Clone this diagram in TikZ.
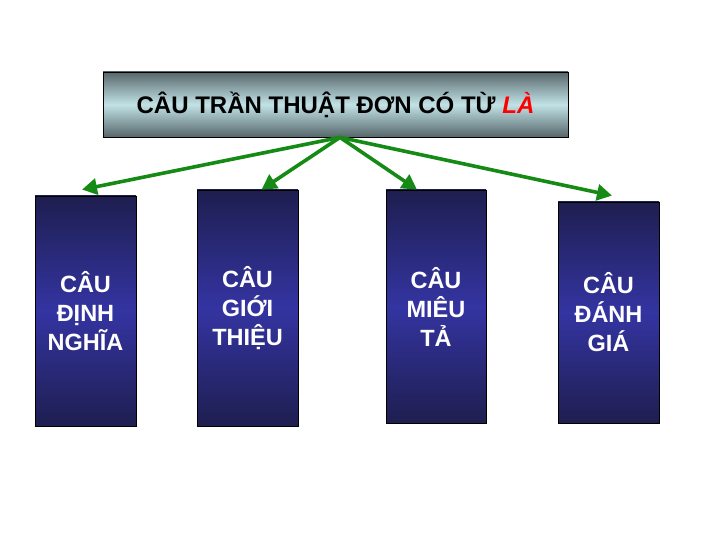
\documentclass[tikz,border=0pt]{standalone}
\usepackage{fontspec}
\setmainfont{Liberation Sans}
\usetikzlibrary{arrows.meta}
\definecolor{navy}{HTML}{1E1E50}
\definecolor{navymid}{HTML}{3434A2}
\definecolor{steel}{HTML}{56676B}
\definecolor{steelmid}{HTML}{C2E2E6}
\definecolor{arrowgreen}{HTML}{158A15}
\begin{document}
\begin{tikzpicture}[x=1pt,y=1pt,
    kind/.style={draw=black, line width=0.8pt, top color=navy, bottom color=navy, middle color=navymid,
      text=white, font=\bfseries\fontsize{23.5}{29}\selectfont, align=center, inner sep=0pt},
    link/.style={draw=arrowgreen, line width=3.6pt, -{Triangle[length=15pt,width=16pt]}}]
  \useasboundingbox (0,0) rectangle (720,540);
  \node[draw=black, line width=0.8pt, top color=steel, bottom color=steel, middle color=steelmid,
    minimum width=465pt, minimum height=65pt, font=\bfseries\fontsize{24}{28}\selectfont]
    (title) at (335.5,435.5) {CÂU TRẦN THUẬT ĐƠN CÓ TỪ \textcolor{red}{\itshape LÀ}};
  \node[kind, minimum width=101pt, minimum height=230pt] (def) at (85.5,229) {CÂU\\ĐỊNH\\NGHĨA};
  \node[kind, minimum width=101pt, minimum height=236pt] (intro) at (247.5,232) {CÂU\\GIỚI\\THIỆU};
  \node[kind, minimum width=100pt, minimum height=233pt] (desc) at (436,233.5) {CÂU\\MIÊU\\TẢ};
  \node[kind, minimum width=101pt, minimum height=221pt] (eval) at (608.5,227.5) {CÂU\\ĐÁNH\\GIÁ};
  \coordinate (apex) at ([xshift=4.5pt]title.south);
  \draw[link] (apex) -- ([xshift=-3.5pt,yshift=6pt]def.north);
  \draw[link] (apex) -- ([xshift=14pt]intro.north);
  \draw[link] (apex) -- ([xshift=-19pt]desc.north);
  \draw[link] (apex) -- ([xshift=3.5pt,yshift=6pt]eval.north);
\end{tikzpicture}
\end{document}
